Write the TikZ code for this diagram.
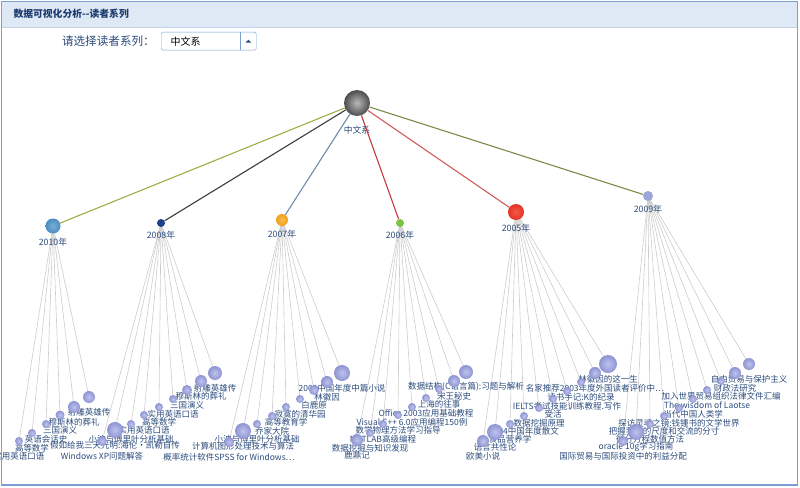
\documentclass[tikz,border=0pt]{standalone}
\usepackage{fontspec}
\setmainfont{Noto Sans CJK SC}
\usetikzlibrary{positioning}
\pgfdeclarelayer{edges}
\pgfsetlayers{edges,main}
\definecolor{frameblue}{HTML}{7A9FD0}
\definecolor{headfill}{HTML}{DFE9F5}
\definecolor{headline}{HTML}{C4D5EB}
\definecolor{titleblue}{HTML}{1A3A6E}
\definecolor{txt}{HTML}{2B4B7C}
\definecolor{leafhi}{HTML}{BFC3EE}
\definecolor{leaflo}{HTML}{8E94D2}
\definecolor{edgegray}{HTML}{CCCCCC}
\tikzset{
  leaf/.style={circle, inner sep=0pt, shade, inner color=leafhi, outer color=leaflo},
  year/.style={circle, inner sep=0pt},
  booklabel/.style={text=txt, font=\fontsize{8.5}{9}\selectfont, inner sep=0pt},
  yearlabel/.style={text=txt, font=\fontsize{8.8}{10}\selectfont, inner sep=0pt},
  leafedge/.style={draw=edgegray, line width=0.6pt},
  rootedge/.style={line width=1.1pt},
}
\begin{document}
\begin{tikzpicture}[x=1pt, y=-1pt]
  \useasboundingbox (0,0) rectangle (800,487);
  % frame and header
  \fill[headfill] (1,1) rectangle (798,27);
  \draw[headline] (1,27) -- (798,27);
  \draw[frameblue, line width=1.6pt] (1.5,1.5) rectangle (797.5,485);
  \node[anchor=west, text=titleblue, font=\fontsize{9.8}{11}\selectfont\bfseries] (title) at (10,14) {数据可视化分析-{}-读者系列};
  % selector
  \node[draw=frameblue, rounded corners=1.5pt, minimum width=95pt, minimum height=18pt, anchor=north west, inner sep=0pt] (combo) at (161,32) {};
  \node[anchor=west, font=\fontsize{10}{12}\selectfont] (choice) at ([xshift=6pt]combo.west) {中文系};
  \draw[frameblue] ([xshift=-16pt]combo.north east) -- ([xshift=-16pt]combo.south east);
  \fill[txt] ([xshift=-11pt,yshift=-1.5pt]combo.east) -- ([xshift=-5pt,yshift=-1.5pt]combo.east) -- ([xshift=-8pt,yshift=1.5pt]combo.east) -- cycle;
  \node[left=6pt of combo, text=txt, font=\fontsize{11.6}{13}\selectfont, inner sep=0pt] (prompt) {请选择读者系列：};

  % root and years
  \node[circle, inner sep=0pt, minimum size=26pt, shade, inner color=gray!55, outer color=black!70] (root) at (357,103) {};
  \node[yearlabel, below=10pt of root] (rootlbl) {中文系};
  \node[year, minimum size=15pt, shade, inner color={rgb,255:red,120;green,175;blue,215}, outer color={rgb,255:red,74;green,140;blue,196}] (y2010) at (53,226) {};
  \node[year, minimum size=8pt, fill={rgb,255:red,30;green,63;blue,140}] (y2008) at (161,223) {};
  \node[year, minimum size=12pt, shade, inner color={rgb,255:red,250;green,190;blue,70}, outer color={rgb,255:red,242;green,160;blue,30}] (y2007) at (282,220) {};
  \node[year, minimum size=8pt, fill={rgb,255:red,125;green,194;blue,66}] (y2006) at (400,223) {};
  \node[year, minimum size=16pt, shade, inner color={rgb,255:red,245;green,90;blue,70}, outer color={rgb,255:red,228;green,50;blue,38}] (y2005) at (516,212) {};
  \node[year, minimum size=10pt, fill={rgb,255:red,158;green,165;blue,218}] (y2009) at (648,196) {};
  \node[yearlabel, below=4pt of y2010] {2010年};
  \node[yearlabel, below=4pt of y2008] {2008年};
  \node[yearlabel, below=4pt of y2007] {2007年};
  \node[yearlabel, below=4pt of y2006] {2006年};
  \node[yearlabel, below=4pt of y2005] {2005年};
  \node[yearlabel, below=4pt of y2009] {2009年};
  \draw[rootedge, draw={rgb,255:red,160;green,172;blue,70}] (root) -- (y2010);
  \draw[rootedge, draw={rgb,255:red,60;green,60;blue,60}] (root) -- (y2008);
  \draw[rootedge, draw={rgb,255:red,110;green,140;blue,172}] (root) -- (y2007);
  \draw[rootedge, draw={rgb,255:red,196;green,58;blue,60}] (root) -- (y2006);
  \draw[rootedge, draw={rgb,255:red,206;green,92;blue,92}] (root) -- (y2005);
  \draw[rootedge, draw={rgb,255:red,125;green,138;blue,70}] (root) -- (y2009);

  % books per year
  \foreach \x/\y/\r/\t [count=\i] in {89/397/6/射雕英雄传, 74/407/6/穆斯林的葬礼, 60/415/4.5/三国演义, 46/424/4/英语会话史, 32/433/4/高等数学, 19/441/4/实用英语口语}{
    \node[leaf, minimum size=2*\r pt] (b2010-\i) at (\x,\y) {};
    \node[booklabel] at (\x,\y+15) {\t};
    \begin{pgfonlayer}{edges}\draw[leafedge] (y2010.center) -- (b2010-\i.center);\end{pgfonlayer}
  }
  \foreach \x/\y/\r/\t [count=\i] in {215/373/7/射雕英雄传, 201/381/6/穆斯林的葬礼, 187/390/5/三国演义, 173/399/4/实用英语口语, 159/407/4/高等数学, 144/415/4/实用英语口语, 131/424/4/小波与傅里叶分析基础, 115/430/8/假如给我三天光明:海伦·凯勒自传, 102/441/5/Windows XP问题解答}{
    \node[leaf, minimum size=2*\r pt] (b2008-\i) at (\x,\y) {};
    \node[booklabel] at (\x,\y+15) {\t};
    \begin{pgfonlayer}{edges}\draw[leafedge] (y2008.center) -- (b2008-\i.center);\end{pgfonlayer}
  }
  \foreach \x/\y/\r/\t [count=\i] in {342/373/8/2004中国年度中篇小说, 327/382/6/林徽因, 314/390/5/白鹿原, 300/399/4/寂寞的清华园, 286/407/4/高等教育学, 272/416/4/乔家大院, 257/424/4/小波与傅里叶分析基础, 243/431/8/计算机图形处理技术与算法, 229/442/5/概率统计软件SPSS for Windows\ldots}{
    \node[leaf, minimum size=2*\r pt] (b2007-\i) at (\x,\y) {};
    \node[booklabel] at (\x,\y+15) {\t};
    \begin{pgfonlayer}{edges}\draw[leafedge] (y2007.center) -- (b2007-\i.center);\end{pgfonlayer}
  }
  \foreach \x/\y/\r/\t [count=\i] in {466/372/7/数据结构(C语言篇):习题与解析, 454/381/6/宋王秘史, 439/389/4/上海的往事, 426/398/4/Office 2003应用基础教程, 412/407/4/Visual C++ 6.0应用编程150例, 398/415/4/数学物理方法学习指导, 383/424/4/MATLAB高级编程, 370/433/4/数据挖掘与知识发现, 357/440/6/鹿鼎记}{
    \node[leaf, minimum size=2*\r pt] (b2006-\i) at (\x,\y) {};
    \node[booklabel] at (\x,\y+15) {\t};
    \begin{pgfonlayer}{edges}\draw[leafedge] (y2006.center) -- (b2006-\i.center);\end{pgfonlayer}
  }
  \foreach \x/\y/\r/\t [count=\i] in {608/364/9/林徽因的这一生, 595/373/6/名家推荐2003年度外国读者评价中\ldots, 581/382/4/读书手记:K的纪录, 567/391/4/IELTS考试技能训练教程.写作, 553/399/4/受活, 539/408/4/数据挖掘原理, 524/416/4/2004中国年度散文, 510/424/4/食品营养学, 495/432/8/语言共性论, 483/441/6/欧美小说}{
    \node[leaf, minimum size=2*\r pt] (b2005-\i) at (\x,\y) {};
    \node[booklabel] at (\x,\y+15) {\t};
    \begin{pgfonlayer}{edges}\draw[leafedge] (y2005.center) -- (b2005-\i.center);\end{pgfonlayer}
  }
  \foreach \x/\y/\r/\t [count=\i] in {749/364/6/自由贸易与保护主义, 735/373/6/财政法研究, 721/381/4/加入世界贸易组织法律文件汇编, 707/390/4/The wisdom of Laotse, 693/399/4/当代中国人类学, 679/408/4/探访灵魂之镜:钱锺书的文学世界, 664/416/4/把握我们的尺度和交流的分寸, 650/424/4/微分方程数值方法, 636/432/8/oracle 10g学习指南, 623/441/5/国际贸易与国际投资中的利益分配}{
    \node[leaf, minimum size=2*\r pt] (b2009-\i) at (\x,\y) {};
    \node[booklabel] at (\x,\y+15) {\t};
    \begin{pgfonlayer}{edges}\draw[leafedge] (y2009.center) -- (b2009-\i.center);\end{pgfonlayer}
  }
\end{tikzpicture}
\end{document}
